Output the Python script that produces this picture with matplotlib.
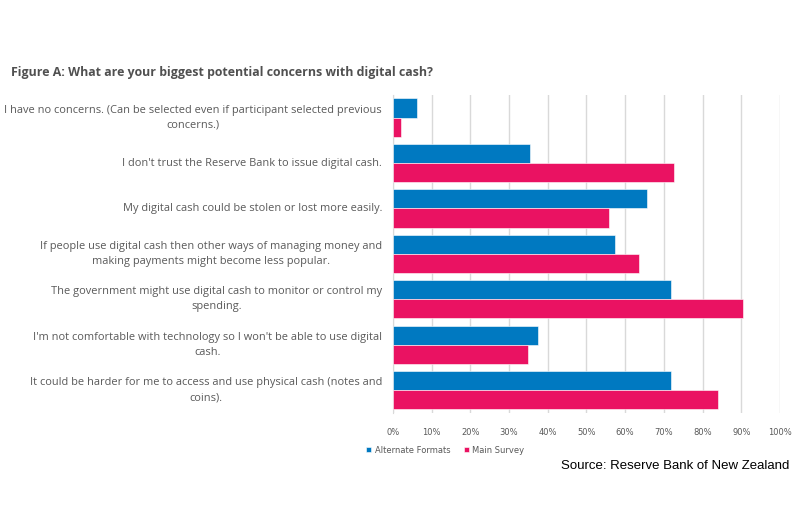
import matplotlib
matplotlib.use("Agg")
import matplotlib.pyplot as plt
import matplotlib.ticker as ticker
import numpy as np

# concern labels, top to bottom
concerns = [
    "I have no concerns. (Can be selected even if participant selected previous\nconcerns.)",
    "I don't trust the Reserve Bank to issue digital cash.",
    "My digital cash could be stolen or lost more easily.",
    "If people use digital cash then other ways of managing money and\nmaking payments might become less popular.",
    "The government might use digital cash to monitor or control my\nspending.",
    "I'm not comfortable with technology so I won't be able to use digital\ncash.",
    "It could be harder for me to access and use physical cash (notes and\ncoins).",
]
alternate_formats = [6.3, 35.4, 65.6, 57.3, 71.8, 37.5, 71.8]
main_survey = [2.1, 72.6, 55.8, 63.5, 90.4, 35.0, 83.9]
series_names = ["Alternate Formats", "Main Survey"]

BLUE = "#0079C1"
PINK = "#EA1262"
TEXT = "#595959"

fig = plt.figure(figsize=(8.1, 5.24), dpi=100)
ax = fig.add_axes([0.485, 0.212, 0.478, 0.607])

y = np.arange(len(concerns))
h = 0.42
ax.barh(y - h / 2, alternate_formats, height=h, color=BLUE, edgecolor="white",
        linewidth=0.4, label=series_names[0], zorder=3)
ax.barh(y + h / 2, main_survey, height=h, color=PINK, edgecolor="white",
        linewidth=0.4, label=series_names[1], zorder=3)

ax.set_xlim(0, 100)
ax.set_ylim(len(concerns) - 0.5, -0.5)
ax.xaxis.set_major_locator(ticker.MultipleLocator(10))
ax.xaxis.set_major_formatter(ticker.FuncFormatter(lambda v, p: f"{v:.0f}%"))
ax.grid(True, axis="x", color="#d9d9d9", linewidth=1, zorder=0)
for s in ["top", "right", "bottom"]:
    ax.spines[s].set_visible(False)
ax.spines["left"].set_color("#d9d9d9")
ax.tick_params(axis="x", length=0, labelsize=6, labelcolor=TEXT, pad=11)
ax.tick_params(axis="y", length=0)
ax.set_yticks(y)
ax.set_yticklabels([])

for yi, lab in zip(y, concerns):
    ax.text(-2.8, yi, lab, transform=ax.transData, ha="right", va="center",
            multialignment="center", fontsize=7.95, color=TEXT,
            family="Open Sans", linespacing=1.5)

fig.text(0.014, 0.862, "Figure A: What are your biggest potential concerns with digital cash?",
         fontsize=8.9, fontweight="bold", color="#505050", family="Open Sans",
         va="center", ha="left")

leg = fig.legend(loc="center left", bbox_to_anchor=(0.443, 0.141), ncol=2, frameon=False,
                 fontsize=6, handlelength=0.6, handleheight=0.6, handletextpad=0.4,
                 columnspacing=1.6)
for t in leg.get_texts():
    t.set_color(TEXT)

fig.text(0.975, 0.111, "Source: Reserve Bank of New Zealand", fontsize=9.5,
         family="Liberation Sans", color="black", ha="right", va="center")

fig.savefig("out.png", dpi=100)
